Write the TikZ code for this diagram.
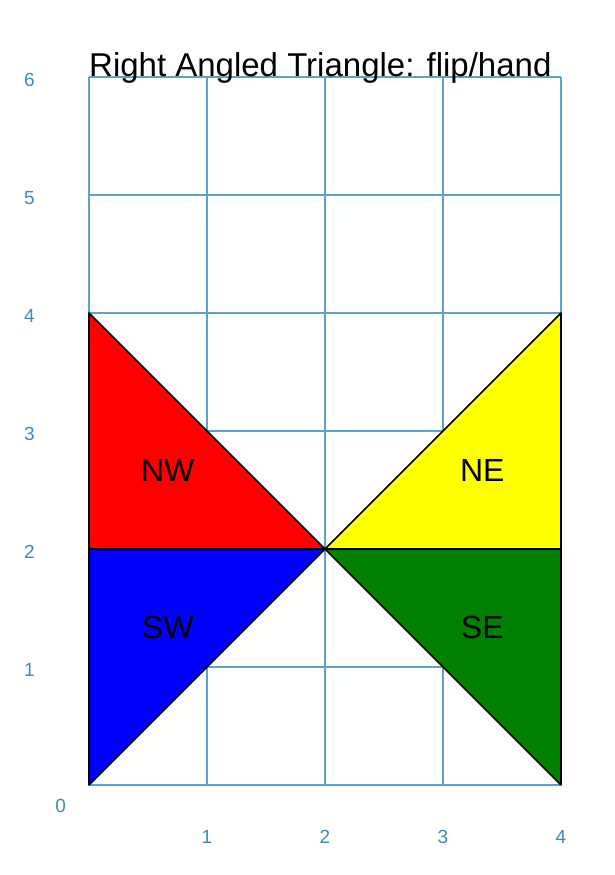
\documentclass[tikz,border=0pt]{standalone}
\usepackage{fontspec}
\setmainfont{Liberation Sans}
\definecolor{gridc}{rgb}{0.36,0.64,0.80}
\definecolor{axisc}{rgb}{0.24,0.55,0.71}
\definecolor{sewgreen}{rgb}{0,0.5,0}
\definecolor{neyellow}{rgb}{1,1,0}
\begin{document}
\begin{tikzpicture}[x=118pt,y=118pt,
  gridline/.style={draw=gridc,line width=1.05pt},
  tri/.style={draw=black,line width=1.6pt,line join=round},
  axislabel/.style={text=axisc,font=\fontsize{19}{19}\selectfont,inner sep=0pt},
  triname/.style={font=\fontsize{32}{32}\selectfont,inner sep=0pt}]
\useasboundingbox (-0.7542,-0.7627) rectangle (4.4576,6.6525);
% grid
\foreach \i in {0,...,4} \draw[gridline] (\i,0) -- (\i,6);
\foreach \j in {0,...,6} \draw[gridline] (0,\j) -- (4,\j);
% triangles
\coordinate (c) at (2,2);
\fill[red] (0,2) -- (0,4) -- (c) -- cycle;
\fill[neyellow] (4,2) -- (4,4) -- (c) -- cycle;
\fill[blue] (0,2) -- (0,0) -- (c) -- cycle;
\fill[sewgreen] (4,2) -- (4,0) -- (c) -- cycle;
\draw[tri] (0,2) -- (0,4) -- (c) -- cycle;
\draw[tri] (4,2) -- (4,4) -- (c) -- cycle;
\draw[tri] (0,2) -- (0,0) -- (c) -- cycle;
\draw[tri] (4,2) -- (4,0) -- (c) -- cycle;
% names
\node[triname] (nw) at (0.667,2.667) {NW};
\node[triname] (ne) at (3.333,2.667) {NE};
\node[triname] (sw) at (0.667,1.333) {SW};
\node[triname] (se) at (3.333,1.333) {SE};
% axis labels
\foreach \j in {1,...,6} \node[axislabel] (y\j) at (-0.505,\j-0.025) {\j};
\node[axislabel] (o) at (-0.24,-0.18) {0};
\foreach \i in {1,...,4} \node[axislabel] (x\i) at (\i,-0.44) {\i};
% title
\node[anchor=base west,inner sep=0pt,font=\fontsize{33}{33}\selectfont] (title) at (0.0,6.0) {Right Angled Triangle: flip/hand};
\end{tikzpicture}
\end{document}
